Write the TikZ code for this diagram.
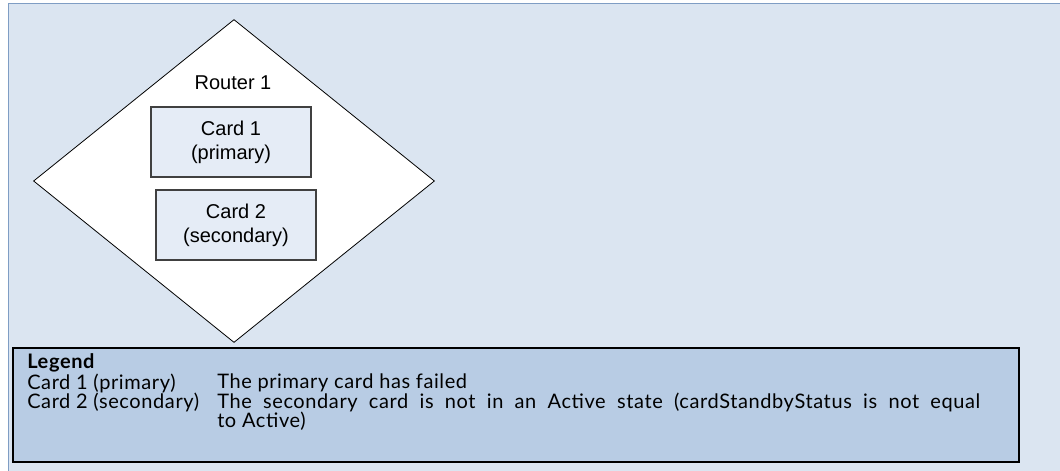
\documentclass[tikz,border=0pt]{standalone}
\usepackage{fontspec}
\setmainfont{Liberation Sans}
\newfontfamily\legendfont[LetterSpace=3]{Lato}
\usetikzlibrary{shapes.geometric}

\definecolor{paneblue}{HTML}{DBE5F1}
\definecolor{paneedge}{HTML}{7F9DC4}
\definecolor{cardfill}{HTML}{E5ECF6}
\definecolor{cardedge}{HTML}{404040}
\definecolor{legendfill}{HTML}{B8CCE4}

\tikzstyle{router} = [diamond, draw, fill=white, line width=0.6pt, inner sep=0pt, minimum width=300.75pt, minimum height=242.25pt]
\tikzstyle{card} = [rectangle, draw=cardedge, fill=cardfill, line width=0.8pt, minimum width=120pt, minimum height=52.5pt, align=center, font=\fontsize{15}{18}\selectfont]
\tikzstyle{legendrow} = [anchor=west, inner sep=0pt, font=\legendfont\fontsize{15}{15}\selectfont]

\begin{document}
\begin{tikzpicture}[x=0.75pt, y=-0.75pt]
        \useasboundingbox (0,0) rectangle (1060,471);
        % pane with only its left and top edge showing
        \fill[paneblue] (8,3) rectangle (1060,471);
        \draw[paneedge, line width=1.2pt] (8.5,471) -- (8.5,3.5) -- (1060,3.5);
        % the router and its cards
        \node (r1) at (234,181) [router] {};
        \node (r1label) at (233,83) [font=\fontsize{15}{18}\selectfont] {Router 1};
        \node (c1) at (231,142) [card] {Card 1\\(primary)};
        \node (c2) at (236,225) [card] {Card 2\\(secondary)};
        % legend
        \node (lg) at (516,405) [rectangle, draw, fill=legendfill, line width=1.6pt, minimum width=754.5pt, minimum height=85.5pt] {};
        \node (lgtitle) at (27,363) [legendrow, font=\legendfont\bfseries\fontsize{15}{15}\selectfont] {Legend};
        \node (k1) at (27,383) [legendrow] {Card 1 (primary)};
        \node (k2) at (27,402) [legendrow] {Card 2 (secondary)};
        \node (v1) at (217,383) [legendrow] {The primary card has failed};
        \node (v2) at (217,402) [legendrow] {\makebox[572.25pt][s]{The secondary card is not in an Active state (cardStandbyStatus is not equal}};
        \node (v2b) at (217,421) [legendrow] {to Active)};
\end{tikzpicture}
\end{document}
